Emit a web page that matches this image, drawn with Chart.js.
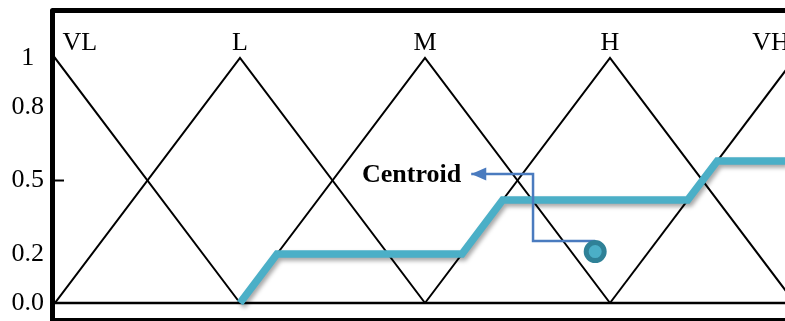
<!DOCTYPE html>
<html>
<head>
    <title>Membership functions</title>
    <script src="https://cdn.jsdelivr.net/npm/chart.js"></script>
    <style>
        html, body { margin: 0; padding: 0; background: #fff; overflow: hidden; }
        canvas { display: block; }
    </style>
</head>
<body>
    <canvas id="myChart" width="785" height="321"></canvas>
    <script>
        // Fuzzy terms and where their triangles peak
        const termNames = ['VL', 'L', 'M', 'H', 'VH'];
        const termPeaks = [0, 1, 2, 3, 4];
        const termLabelX = [0.04, 1, 2, 3, 3.87];

        // Y axis ticks
        const yTickValues = [0, 0.2, 0.5, 0.8, 1];
        const yTickLabels = ['0.0', '0.2', '0.5', '0.8', '1'];

        // Aggregated output (thick teal line)
        const outputX = [1, 1.2, 2.2, 2.42, 3.42, 3.58, 3.95];
        const outputY = [0, 0.2, 0.2, 0.42, 0.42, 0.58, 0.58];

        // Centroid marker and the arrow pointing to its label
        const centroidX = [2.92];
        const centroidY = [0.21];
        const arrowX = [2.92, 2.584, 2.584, 2.25];
        const arrowY = [0.253, 0.253, 0.527, 0.527];
        const centroidLabel = 'Centroid';

        const teal = '#4bafc7';
        const tealDark = '#2f8197';
        const arrowBlue = '#4a7bbf';
        const serif = '"Liberation Serif", "DejaVu Serif", serif';

        const zip = (xs, ys) => xs.map((x, i) => ({ x: x, y: ys[i] }));

        const triangleSets = termPeaks.map((p, i) => ({
            label: termNames[i],
            data: [{ x: p - 1, y: 0 }, { x: p, y: 1 }, { x: p + 1, y: 0 }],
            showLine: true,
            borderColor: '#000',
            borderWidth: 2,
            pointRadius: 0
        }));

        const data = {
            datasets: [
                {
                    label: 'centroid',
                    data: zip(centroidX, centroidY),
                    pointRadius: 9,
                    borderWidth: 5,
                    borderColor: tealDark,
                    backgroundColor: teal
                },
                {
                    label: 'arrow',
                    data: zip(arrowX, arrowY),
                    showLine: true,
                    borderColor: arrowBlue,
                    borderWidth: 2.5,
                    pointRadius: 0
                },
                {
                    label: 'output',
                    data: zip(outputX, outputY),
                    showLine: true,
                    borderColor: teal,
                    borderWidth: 7.5,
                    pointRadius: 0,
                    borderJoinStyle: 'miter'
                },
                ...triangleSets
            ]
        };

        // frame, zero line, term labels, arrow head, shadow under teal line
        const decor = {
            id: 'decor',
            beforeDatasetDraw(chart, args) {
                if (args.index === 2) {
                    const ctx = chart.ctx;
                    ctx.save();
                    ctx.shadowColor = 'rgba(0,0,0,0.35)';
                    ctx.shadowBlur = 4;
                    ctx.shadowOffsetX = 2;
                    ctx.shadowOffsetY = 3;
                }
            },
            afterDatasetDraw(chart, args) {
                if (args.index === 2) chart.ctx.restore();
                if (args.index === 1) {
                    // arrow head at the end of the arrow line
                    const ctx = chart.ctx;
                    const xs = chart.scales.x, ys = chart.scales.y;
                    const n = arrowX.length - 1;
                    const tx = xs.getPixelForValue(arrowX[n]);
                    const ty = ys.getPixelForValue(arrowY[n]);
                    ctx.save();
                    ctx.fillStyle = arrowBlue;
                    ctx.beginPath();
                    ctx.moveTo(tx, ty);
                    ctx.lineTo(tx + 15, ty - 6.5);
                    ctx.lineTo(tx + 15, ty + 6.5);
                    ctx.closePath();
                    ctx.fill();
                    ctx.font = 'bold 26px ' + serif;
                    ctx.fillStyle = '#000';
                    ctx.textAlign = 'right';
                    ctx.textBaseline = 'middle';
                    ctx.fillText(centroidLabel, tx - 10, ty + 1);
                    ctx.restore();
                }
            },
            beforeDatasetsDraw(chart) {
                const ctx = chart.ctx;
                const a = chart.chartArea;
                const ys = chart.scales.y, xs = chart.scales.x;
                ctx.save();
                ctx.strokeStyle = '#000';
                // zero line
                const y0 = ys.getPixelForValue(0);
                ctx.lineWidth = 2.5;
                ctx.beginPath();
                ctx.moveTo(a.left, y0);
                ctx.lineTo(a.right, y0);
                ctx.stroke();
                // tick at 0.5
                const yHalf = ys.getPixelForValue(0.5);
                ctx.lineWidth = 2;
                ctx.beginPath();
                ctx.moveTo(a.left, yHalf);
                ctx.lineTo(a.left + 9, yHalf);
                ctx.stroke();
                // term labels
                ctx.fillStyle = '#000';
                ctx.font = '26px ' + serif;
                ctx.textBaseline = 'alphabetic';
                termNames.forEach((t, i) => {
                    ctx.textAlign = i === 0 ? 'left' : 'center';
                    ctx.fillText(t, xs.getPixelForValue(termLabelX[i]), ys.getPixelForValue(1.034));
                });
                ctx.restore();
            },
            afterDraw(chart) {
                const ctx = chart.ctx;
                const a = chart.chartArea;
                ctx.save();
                ctx.strokeStyle = '#000';
                ctx.lineJoin = 'round';
                ctx.lineWidth = 5;
                ctx.beginPath();
                ctx.moveTo(a.left - 2.5, chart.height);
                ctx.lineTo(a.left - 2.5, a.top - 2.5);
                ctx.lineTo(chart.width + 5, a.top - 2.5);
                ctx.stroke();
                ctx.lineWidth = 3;
                ctx.beginPath();
                ctx.moveTo(a.left - 2.5, a.bottom + 1.5);
                ctx.lineTo(chart.width, a.bottom + 1.5);
                ctx.stroke();
                ctx.restore();
            }
        };

        const config = {
            type: 'scatter',
            data: data,
            options: {
                responsive: false,
                animation: false,
                events: [],
                layout: { autoPadding: false, padding: { top: 13, bottom: 3, left: 0, right: 0 } },
                plugins: {
                    legend: { display: false },
                    tooltip: { enabled: false }
                },
                scales: {
                    x: {
                        type: 'linear',
                        display: false,
                        min: 0,
                        max: 3.946
                    },
                    y: {
                        type: 'linear',
                        min: -0.0612,
                        max: 1.1837,
                        grid: { display: false },
                        border: { display: false },
                        afterBuildTicks: (scale) => {
                            scale.ticks = yTickValues.map(v => ({ value: v }));
                        },
                        afterFit: (scale) => {
                            scale.width = 55;
                            scale.paddingTop = 0;
                            scale.paddingBottom = 0;
                        },
                        ticks: {
                            crossAlign: 'center',
                            padding: 3,
                            color: '#000',
                            font: { family: serif, size: 26 },
                            callback: (v, i) => yTickLabels[i]
                        }
                    }
                }
            },
            plugins: [decor]
        };

        const myChart = new Chart(document.getElementById('myChart'), config);
    </script>
</body>
</html>
